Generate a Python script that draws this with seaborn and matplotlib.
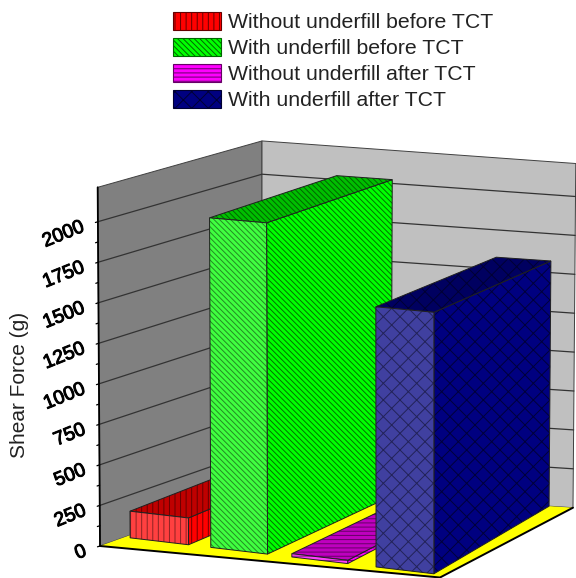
import numpy as np
import matplotlib
matplotlib.use("Agg")
import matplotlib.pyplot as plt
import matplotlib.patheffects as pe
from matplotlib.patches import Patch, Polygon
from matplotlib.colors import to_rgb
import seaborn as sns

# ---------- data ----------
series = ["Without underfill before TCT", "With underfill before TCT",
          "Without underfill after TCT", "With underfill after TCT"]
shear_force = [165, 2025, 20, 1575]
y_ticks = [0, 250, 500, 750, 1000, 1250, 1500, 1750, 2000]
y_label = "Shear Force (g)"

# ---------- styling / layout ----------
base_colors = ["#ff0000", "#00ff00", "#ff00ff", "#000080"]
hatches = ["|||", "\\" * 6, "----", "xx"]
slot_start = [0.02, 0.30, 0.56, 0.81]
slot_end = [0.225, 0.484, 0.728, 0.971]
wall_top = 2212

sns.set_theme(style="white")
plt.rcParams["font.family"] = ["Liberation Sans", "DejaVu Sans"]
plt.rcParams["hatch.linewidth"] = 0.7

fig = plt.figure(figsize=(5.76, 5.78), dpi=100)
ax = fig.add_axes([0, 0, 1, 1])
ax.set_xlim(0, 576)
ax.set_ylim(578, 0)
ax.axis("off")

# chart-box camera: floor homography plus a height scale interpolated over the floor
FL, FR, BR, BL = (100, 546), (440, 577.5), (573, 507.7), (262, 488)
rise = {"FL": 0.16215, "FR": 0.1665, "BR": 0.1556, "BL": 0.1569}
lean = {"FL": -0.00105, "FR": 0.0, "BR": 0.00125, "BL": 0.0}

A, b = [], []
for (u, v), (X, Y) in zip([(0, 0), (1, 0), (1, 1), (0, 1)], [FL, FR, BR, BL]):
    A.append([u, v, 1, 0, 0, 0, -u * X, -v * X]); b.append(X)
    A.append([0, 0, 0, u, v, 1, -u * Y, -v * Y]); b.append(Y)
H = np.append(np.linalg.solve(np.array(A, float), np.array(b, float)), 1).reshape(3, 3)


def bilerp(d, u, v):
    return (d["FL"] * (1 - u) * (1 - v) + d["FR"] * u * (1 - v) + d["BR"] * u * v + d["BL"] * (1 - u) * v)


def proj(u, v, z):
    r = H @ np.array([u, v, 1.0])
    return r[0] / r[2] + z * bilerp(lean, u, v), r[1] / r[2] - z * bilerp(rise, u, v)


def bar_uv(s, t):
    front = 0.135 - 0.105 * s
    return s - 0.04 * t, front * (1 - t) + 1.0 * t


def mix(c, other, f):
    return tuple((1 - f) * np.array(to_rgb(c)) + f * np.array(to_rgb(other)))


def face(pts, fc, hatch=None, hc=None, ec="#202020", lw=0.7, z=2):
    ax.add_patch(Polygon(pts, closed=True, facecolor=fc, edgecolor=hc if hatch else "none",
                         hatch=hatch, lw=0, zorder=z))
    ax.add_patch(Polygon(pts, closed=True, fill=False, edgecolor=ec, lw=lw, zorder=z))


# walls and floor
face([proj(0, 0, 0), proj(0, 1, 0), proj(0, 1, wall_top), proj(0, 0, wall_top)], "#808080", ec="#404040", z=1)
face([proj(0, 1, 0), proj(1, 1, 0), proj(1, 1, wall_top), proj(0, 1, wall_top)], "#c0c0c0", ec="#404040", z=1)
face([proj(0, 0, 0), proj(1, 0, 0), proj(1, 1, 0), proj(0, 1, 0)], "#ffff00", ec="none", lw=0, z=1)

for val in y_ticks[1:]:
    ax.plot(*zip(proj(0, 0, val), proj(0, 1, val), proj(1, 1, val)), color="#333333", lw=0.9, zorder=1.5)
ax.plot(*zip(proj(0, 0, 0), proj(1, 0, 0), proj(1, 1, 0)), color="black", lw=1.4, zorder=1.6)
ax.plot(*zip(proj(0, 0, 0), proj(0, 0, wall_top)), color="black", lw=1.3, zorder=1.6)

for val in np.arange(0, 2125, 125):
    x, y = proj(0, 0, val)
    ax.plot([x - 2.5, x], [y + 0.8, y], color="black", lw=0.9, zorder=1.6)

# bars
for i, h in enumerate(shear_force):
    c = base_colors[i]
    s0, s1 = slot_start[i], slot_end[i]
    z = 3 + i
    fl, fr = bar_uv(s0, 0), bar_uv(s1, 0)
    bl, br = bar_uv(s0, 1), bar_uv(s1, 1)
    ht = hatches[i]
    face([proj(*fr, 0), proj(*br, 0), proj(*br, h), proj(*fr, h)], c, ht, mix(c, "black", 0.55), z=z)
    face([proj(*fl, h), proj(*fr, h), proj(*br, h), proj(*bl, h)], mix(c, "black", 0.25), ht,
         mix(c, "black", 0.6), z=z)
    face([proj(*fl, 0), proj(*fr, 0), proj(*fr, h), proj(*fl, h)], mix(c, "white", 0.25), ht,
         mix(mix(c, "white", 0.25), "black", 0.45), z=z)

# tick labels
for val in y_ticks:
    x, y = proj(0, 0, val)
    ax.text(x - 14, y + 5, str(val), rotation=22, rotation_mode="anchor", ha="right", va="center",
            fontsize=14, color="black", zorder=8,
            path_effects=[pe.withStroke(linewidth=0.7, foreground="black")])

ax.text(20, 385, y_label, rotation=90, ha="center", va="center", fontsize=15, color="#222222")

handles = [Patch(facecolor=c, edgecolor=mix(c, "black", 0.6), hatch=h, lw=0.8, label=s)
           for c, h, s in zip(base_colors, hatches, series)]
ax.legend(handles=handles, loc="upper left", bbox_to_anchor=(173 / 576, 1 - 12 / 578),
          bbox_transform=ax.transAxes, frameon=False, fontsize=15.3, borderpad=0, borderaxespad=0,
          handlelength=2.25, handleheight=0.95, handletextpad=0.33, labelspacing=0.26,
          labelcolor="#222222")

fig.savefig("out.png", dpi=100)
